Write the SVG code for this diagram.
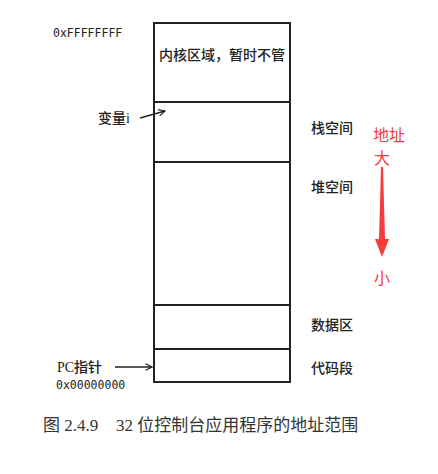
<svg xmlns="http://www.w3.org/2000/svg" width="438" height="474" viewBox="0 0 438 474">
<style>
.box{fill:#fff;stroke:#222;stroke-width:2}
.div{stroke:#222;stroke-width:2}
.lbl{font-family:"Liberation Serif","Noto Sans CJK SC",serif;font-size:14px;fill:#222;font-weight:500}
.mono{font-family:"DejaVu Sans Mono","Liberation Mono",monospace;font-size:11.5px;fill:#222}
.red{font-family:"Noto Sans CJK SC",sans-serif;font-size:16px;fill:#f53c3c}
.cap{font-family:"Liberation Serif","Noto Sans CJK SC",serif;font-size:17px;fill:#333}
.ptr{stroke:#222;stroke-width:1.3;fill:none}
</style>
<defs>
<marker id="open" viewBox="0 0 10 10" refX="9" refY="5" markerWidth="8" markerHeight="8" markerUnits="userSpaceOnUse" orient="auto">
<path d="M1,1 L9,5 L1,9" fill="none" stroke="#222" stroke-width="1.4"/>
</marker>
</defs>
<rect width="438" height="474" fill="#fff"/>
<g id="memory">
<rect class="box" x="154" y="23" width="136" height="359"/>
<line class="div" x1="154" y1="102" x2="290" y2="102"/>
<line class="div" x1="154" y1="162" x2="290" y2="162"/>
<line class="div" x1="154" y1="305" x2="290" y2="305"/>
<line class="div" x1="154" y1="349" x2="290" y2="349"/>
</g>
<g id="kernel"><text class="lbl" x="222" y="60" text-anchor="middle">内核区域，暂时不管</text></g>
<g id="stack"><text class="lbl" x="311" y="133">栈空间</text></g>
<g id="heap"><text class="lbl" x="311" y="192">堆空间</text></g>
<g id="data"><text class="lbl" x="311" y="330">数据区</text></g>
<g id="code"><text class="lbl" x="311" y="373">代码段</text></g>
<g id="addr-high"><text class="mono" x="53" y="37">0xFFFFFFFF</text></g>
<g id="addr-low"><text class="mono" x="56" y="389">0x00000000</text></g>
<g id="var-i"><text class="lbl" x="98" y="123">变量i</text></g>
<g id="pc"><text class="lbl" x="57" y="372">PC指针</text></g>
<g id="direction">
<text class="red" x="373" y="141">地址</text>
<text class="red" x="374" y="164">大</text>
<polygon points="381,167 383,167 385,239 389,239 382,257 375,239 379,239" fill="#f53c3c"/>
<text class="red" x="374" y="284">小</text>
</g>
<g id="connectors">
<line class="ptr" x1="140" y1="118" x2="165" y2="111" marker-end="url(#open)"/>
<line class="ptr" x1="115" y1="367" x2="152" y2="367" marker-end="url(#open)"/>
</g>
<g id="caption"><text class="cap" x="43" y="431">图 2.4.9<tspan x="116">32 位控制台应用程序的地址范围</tspan></text></g>
</svg>
